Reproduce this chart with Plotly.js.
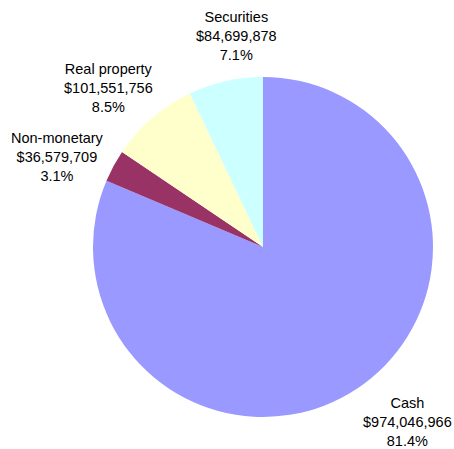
<!DOCTYPE html>
<html>
<head>
<meta charset="utf-8">
<script src="https://cdn.plot.ly/plotly-3.0.1.min.js"></script>
<style>html,body{margin:0;padding:0;background:#fff;}#chart{width:454px;height:449px;}</style>
</head>
<body>
<div id="chart"></div>
<script>
const categories = ["Cash", "Non-monetary", "Real property", "Securities"];
const amounts = [974046966, 36579709, 101551756, 84699878];
const sliceColors = ["#9999FF", "#993366", "#FFFFCC", "#CCFFFF"];
// label box centres in pixels (layout only)
const labelPos = [[407, 421.5], [57, 157], [108, 88], [236, 36]];

const W = 454, H = 449;
const total = amounts.reduce((a, b) => a + b, 0);
const fmt = v => "$" + v.toLocaleString("en-US");

const trace = {
  type: "pie",
  labels: categories,
  values: amounts,
  sort: false,
  direction: "clockwise",
  rotation: 0,
  marker: { colors: sliceColors, line: { width: 0 } },
  textinfo: "none",
  hoverinfo: "none",
  domain: { x: [93 / W, 433 / W], y: [1 - 417 / H, 1 - 77 / H] },
  showlegend: false
};

const annotations = categories.map((c, i) => ({
  xref: "paper", yref: "paper",
  x: labelPos[i][0] / W, y: 1 - labelPos[i][1] / H,
  xanchor: "center", yanchor: "middle",
  showarrow: false,
  align: "center",
  text: c + "<br>" + fmt(amounts[i]) + "<br>" + (amounts[i] / total * 100).toFixed(1) + "%",
  font: { family: "Liberation Sans, Arial, sans-serif", size: 14.5, color: "#000" }
}));

const layout = {
  width: W, height: H,
  margin: { l: 0, r: 0, t: 0, b: 0 },
  paper_bgcolor: "#fff",
  showlegend: false,
  annotations: annotations
};

Plotly.newPlot("chart", [trace], layout, { staticPlot: true, displayModeBar: false });
</script>
</body>
</html>
